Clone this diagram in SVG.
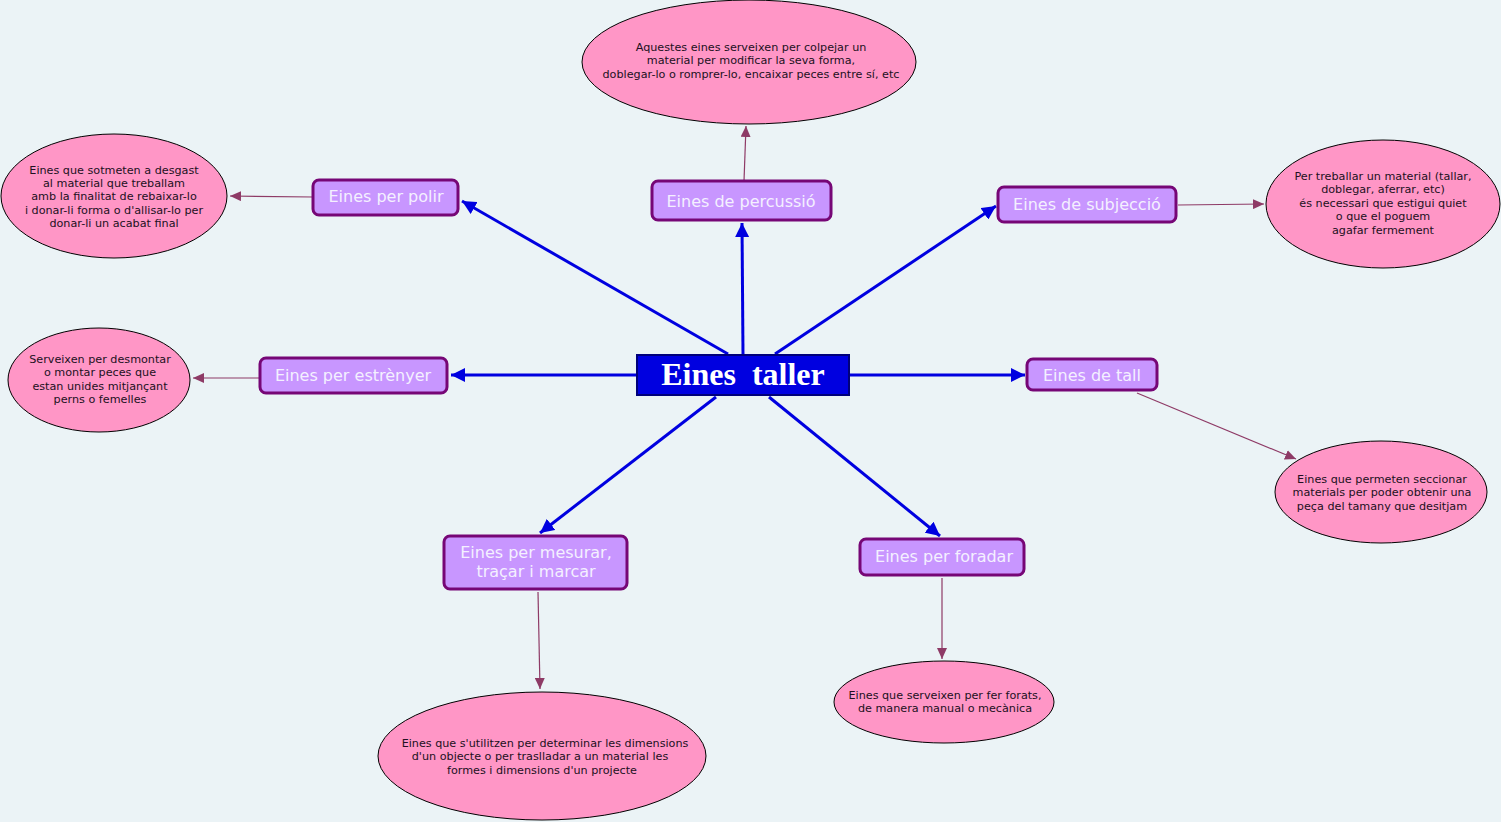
<svg xmlns="http://www.w3.org/2000/svg" width="1501" height="822" viewBox="0 0 1501 822">
<style>
.bg{fill:#EBF3F6}
.node rect{fill:#C896FF;stroke:#760676;stroke-width:3}
.node text{font-family:"DejaVu Sans","Verdana",sans-serif;font-size:16px;fill:#F4F0FF;text-anchor:middle}
.note ellipse{fill:#FF96C6;stroke:#000;stroke-width:1}
.note text{font-family:"DejaVu Sans","Verdana",sans-serif;font-size:11.2px;fill:#221122;text-anchor:middle}
.main{stroke:#0000E0;stroke-width:3;fill:none}
.sub{stroke:#8E3A66;stroke-width:1.2;fill:none}
</style>
<defs>
<marker id="ab" markerUnits="userSpaceOnUse" markerWidth="16" markerHeight="14" refX="14" refY="7" orient="auto"><path d="M0,0 L14,7 L0,14 Z" fill="#0000E0"/></marker>
<marker id="ap" markerUnits="userSpaceOnUse" markerWidth="12" markerHeight="10" refX="11" refY="5" orient="auto"><path d="M0,0 L11,5 L0,10 Z" fill="#8E3A66"/></marker>
</defs>
<rect class="bg" x="0" y="0" width="1501" height="822"/>
<g id="connectors">
<line class="main" x1="728" y1="354" x2="462" y2="201" marker-end="url(#ab)"/>
<line class="main" x1="743" y1="354" x2="742" y2="223" marker-end="url(#ab)"/>
<line class="main" x1="775" y1="354" x2="996" y2="206" marker-end="url(#ab)"/>
<line class="main" x1="636" y1="375" x2="451" y2="375" marker-end="url(#ab)"/>
<line class="main" x1="849" y1="375" x2="1025" y2="375" marker-end="url(#ab)"/>
<line class="main" x1="716" y1="397" x2="540" y2="533" marker-end="url(#ab)"/>
<line class="main" x1="769" y1="397" x2="940" y2="536" marker-end="url(#ab)"/>
<line class="sub" x1="744" y1="181" x2="746" y2="126" marker-end="url(#ap)"/>
<line class="sub" x1="313" y1="197" x2="230" y2="196" marker-end="url(#ap)"/>
<line class="sub" x1="1178" y1="205" x2="1264" y2="204" marker-end="url(#ap)"/>
<line class="sub" x1="260" y1="378" x2="193" y2="378" marker-end="url(#ap)"/>
<line class="sub" x1="1137" y1="393" x2="1296" y2="459" marker-end="url(#ap)"/>
<line class="sub" x1="538" y1="592" x2="540" y2="689" marker-end="url(#ap)"/>
<line class="sub" x1="942" y1="578" x2="942" y2="659" marker-end="url(#ap)"/>
</g>
<g id="center">
<rect x="637" y="355" width="212" height="40" fill="#0000E0" stroke="#00007A" stroke-width="2"/>
<text x="743" y="385" font-family="'Liberation Serif','Times New Roman',serif" font-size="32" font-weight="bold" fill="#FFFFFF" text-anchor="middle" xml:space="preserve">Eines  taller</text>
</g>
<g id="n-percussio" class="node"><rect x="652" y="181" width="179" height="39" rx="6"/><text x="741" y="207">Eines de percussió</text></g>
<g id="n-polir" class="node"><rect x="313" y="180" width="145" height="35" rx="6"/><text x="386" y="202">Eines per polir</text></g>
<g id="n-subjeccio" class="node"><rect x="998" y="187" width="178" height="35" rx="6"/><text x="1087" y="210">Eines de subjecció</text></g>
<g id="n-estrenyer" class="node"><rect x="260" y="358" width="187" height="35" rx="6"/><text x="353" y="381">Eines per estrènyer</text></g>
<g id="n-tall" class="node"><rect x="1027" y="359" width="130" height="31" rx="6"/><text x="1092" y="381">Eines de tall</text></g>
<g id="n-mesurar" class="node"><rect x="444" y="536" width="183" height="53" rx="6"/><text x="536" y="558">Eines per mesurar,</text><text x="536" y="577">traçar i marcar</text></g>
<g id="n-foradar" class="node"><rect x="860" y="539" width="164" height="36" rx="6"/><text x="944" y="562">Eines per foradar</text></g>
<g id="e-percussio" class="note"><ellipse cx="749" cy="62" rx="167" ry="62"/><text x="751" y="51">Aquestes eines serveixen per colpejar un</text><text x="751" y="64">material per modificar la seva forma,</text><text x="751" y="78">doblegar-lo o romprer-lo, encaixar peces entre sí, etc</text></g>
<g id="e-polir" class="note"><ellipse cx="114" cy="196" rx="113" ry="62"/><text x="114" y="174">Eines que sotmeten a desgast</text><text x="114" y="187">al material que treballam</text><text x="114" y="200">amb la finalitat de rebaixar-lo</text><text x="114" y="214">i donar-li forma o d'allisar-lo per</text><text x="114" y="227">donar-li un acabat final</text></g>
<g id="e-subjeccio" class="note"><ellipse cx="1383" cy="204" rx="117" ry="64"/><text x="1383" y="180">Per treballar un material (tallar,</text><text x="1383" y="193">doblegar, aferrar, etc)</text><text x="1383" y="207">és necessari que estigui quiet</text><text x="1383" y="220">o que el poguem</text><text x="1383" y="234">agafar fermement</text></g>
<g id="e-estrenyer" class="note"><ellipse cx="99" cy="380" rx="91" ry="52"/><text x="100" y="363">Serveixen per desmontar</text><text x="100" y="376">o montar peces que</text><text x="100" y="390">estan unides mitjançant</text><text x="100" y="403">perns o femelles</text></g>
<g id="e-tall" class="note"><ellipse cx="1381" cy="492" rx="106" ry="51"/><text x="1382" y="483">Eines que permeten seccionar</text><text x="1382" y="496">materials per poder obtenir una</text><text x="1382" y="510">peça del tamany que desitjam</text></g>
<g id="e-mesurar" class="note"><ellipse cx="542" cy="756" rx="164" ry="64"/><text x="545" y="747">Eines que s'utilitzen per determinar les dimensions</text><text x="540" y="760">d'un objecte o per traslladar a un material les</text><text x="542" y="774">formes i dimensions d'un projecte</text></g>
<g id="e-foradar" class="note"><ellipse cx="944" cy="702" rx="110" ry="41"/><text x="945" y="699">Eines que serveixen per fer forats,</text><text x="945" y="712">de manera manual o mecànica</text></g>
</svg>
